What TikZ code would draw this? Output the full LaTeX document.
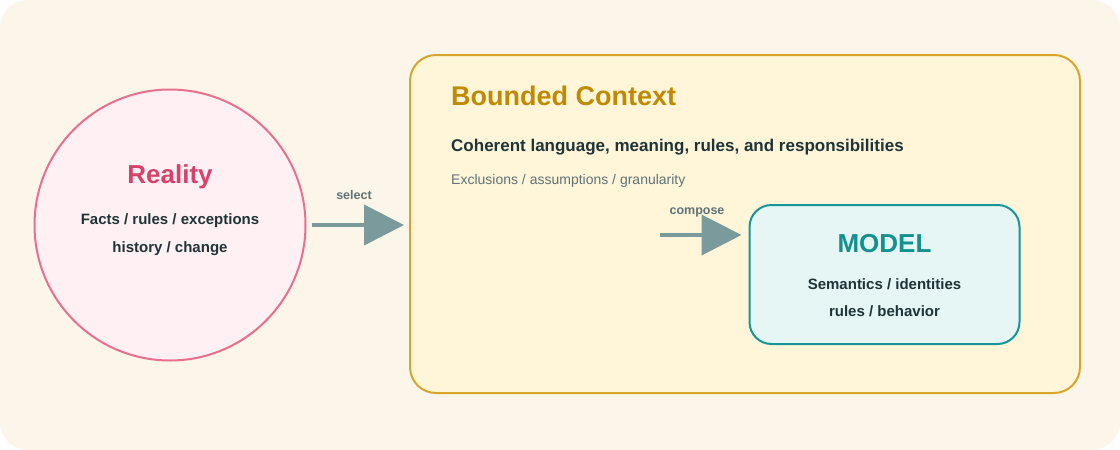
\documentclass[tikz,border=0pt]{standalone}
\usepackage{fontspec}
\setmainfont{Liberation Sans}
\usepackage{xcolor}
\definecolor{ddcream}{RGB}{252, 245, 233}
\definecolor{ddpinkfill}{RGB}{255, 240, 243}
\definecolor{ddpink}{RGB}{232, 112, 142}
\definecolor{ddred}{RGB}{214, 67, 106}
\definecolor{dddark}{RGB}{31, 52, 55}
\definecolor{ddgray}{RGB}{95, 115, 119}
\definecolor{ddyellowfill}{RGB}{255, 246, 218}
\definecolor{ddyellow}{RGB}{216, 164, 42}
\definecolor{ddgold}{RGB}{191, 138, 0}
\definecolor{ddarrow}{RGB}{122, 154, 156}
\definecolor{ddtealfill}{RGB}{230, 246, 244}
\definecolor{ddteal}{RGB}{21, 151, 154}
\definecolor{ddtealtext}{RGB}{19, 145, 143}
\usepackage{tikz}
\usetikzlibrary{arrows.meta, positioning, backgrounds}

\begin{document}
\begin{tikzpicture}[
        x=1pt, y=-1pt,
        circ/.style={
            circle,
            draw=ddpink,
            line width=2pt,
            fill=ddpinkfill,
            minimum size=271pt,
            inner sep=0pt
        },
        region/.style={
            rectangle,
            line width=2pt,
            rounded corners=26pt,
            inner sep=0pt
        },
        title/.style={
            font=\bfseries\fontsize{26}{30}\selectfont,
            anchor=base,
            inner sep=0pt
        },
        body/.style={
            font=\bfseries\fontsize{15}{18}\selectfont,
            text=dddark,
            anchor=base,
            inner sep=0pt
        },
        tag/.style={
            font=\bfseries\fontsize{12.5}{14}\selectfont,
            text=ddgray,
            anchor=base,
            inner sep=0pt
        },
        arrow/.style={
            -{Triangle[length=40pt, width=40pt]},
            line width=4pt,
            color=ddarrow
        }
    ]
        \useasboundingbox (0,0) rectangle (1120,450);

        % Nodes
        \node[circ] (reality) at (170,225) {};
        \node[title, text=ddred] (realitytitle) at (170,183) {Reality};
        \node[body] (realityfacts) at (170,224) {Facts / rules / exceptions};
        \node[body] (realityhist) at (170,252) {history / change};

        \node[region, draw=ddyellow, fill=ddyellowfill, minimum width=670pt, minimum height=338pt] (context) at (745,224) {};
        \node[title, anchor=base west, text=ddgold, font=\bfseries\fontsize{27}{31}\selectfont] (contexttitle) at (451,105) {Bounded Context};
        \node[body, anchor=base west, font=\bfseries\fontsize{17}{20}\selectfont] (contextlang) at (451,151) {Coherent language, meaning, rules, and responsibilities};
        \node[anchor=base west, inner sep=0pt, text=ddgray, font=\fontsize{14}{17}\selectfont] (contextexcl) at (451,184) {Exclusions / assumptions / granularity};

        \node[region, draw=ddteal, fill=ddtealfill, rounded corners=22pt, minimum width=270pt, minimum height=139pt] (model) at (884.5,274.5) {};
        \node[title, text=ddtealtext] (modeltitle) at (884.5,252) {MODEL};
        \node[body] (modelsem) at (884.5,289) {Semantics / identities};
        \node[body] (modelrules) at (884.5,316) {rules / behavior};

        \coordinate (composestart) at (660,235);

        % Arrows
        \draw[arrow, shorten <=5pt, shorten >=5pt] (reality.east) -- (reality.east -| context.west);
        \node[tag] (selectlabel) at (354,199) {select};
        \draw[arrow, shorten >=7pt] (composestart) -- (composestart -| model.west);
        \node[tag] (composelabel) at (697,214) {compose};

        % Background
        \begin{scope}[on background layer]
            \fill[white] (0,0) rectangle (1120,450);
            \fill[ddcream, rounded corners=28pt] (0,0) rectangle (1120,450);
        \end{scope}
    \end{tikzpicture}
\end{document}
